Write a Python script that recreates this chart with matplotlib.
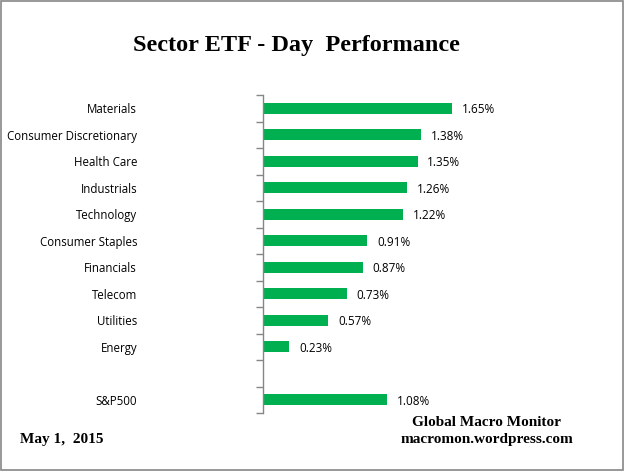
import numpy as np
import matplotlib.pyplot as plt
from matplotlib.patches import Rectangle

# Sector ETF daily returns (%)
sectors = ['Materials', 'Consumer Discretionary', 'Health Care', 'Industrials',
           'Technology', 'Consumer Staples', 'Financials', 'Telecom',
           'Utilities', 'Energy', '', 'S&P500']
returns = [1.65, 1.38, 1.35, 1.26, 1.22, 0.91, 0.87, 0.73, 0.57, 0.23, np.nan, 1.08]

green = '#00B050'
axis_gray = '#868686'

fig = plt.figure(figsize=(6.25, 4.71), dpi=100)
ax = fig.add_axes([263 / 625, 58 / 471, 300 / 625, 318 / 471])

y = np.arange(len(sectors))
vals = np.array(returns)
ax.barh(y, np.nan_to_num(vals), height=0.42, color=green)

for yi, v in zip(y, vals):
    if not np.isnan(v):
        ax.text(v + 0.085, yi + 0.06, f'{v:.2f}%', va='center', ha='left',
                fontsize=8.5, family='Open Sans')

ax.set_xlim(0, 300 / 114.5)
ax.set_ylim(len(sectors) - 0.5, -0.5)

# labels sit ~126 px left of the axis line (pad is in points)
ax.set_yticks(y)
ax.set_yticklabels(sectors, fontsize=8.3, family='Open Sans')
ax.tick_params(axis='y', which='major', length=0, pad=126 * 72 / 100)
ax.set_yticks(np.arange(-0.5, len(sectors)), minor=True)
ax.tick_params(axis='y', which='minor', length=5, color=axis_gray, width=1)
ax.set_xticks([])

for side in ['top', 'right', 'bottom']:
    ax.spines[side].set_visible(False)
ax.spines['left'].set_color(axis_gray)
ax.spines['left'].set_linewidth(1)

fig.text(296 / 625, 1 - 45 / 471, 'Sector ETF - Day  Performance', ha='center',
         va='center', fontsize=17.5, fontweight='bold', family='Liberation Serif')
fig.text(20 / 625, 1 - 440 / 471, 'May 1,  2015', ha='left', va='center',
         fontsize=11, fontweight='bold', family='Liberation Serif')
fig.text(487 / 625, 1 - 423 / 471, 'Global Macro Monitor', ha='center', va='center',
         fontsize=11, fontweight='bold', family='Liberation Serif')
fig.text(487 / 625, 1 - 440 / 471, 'macromon.wordpress.com', ha='center', va='center',
         fontsize=11, fontweight='bold', family='Liberation Serif')

fig.patches.append(Rectangle((0.0015, 0.002), 0.996, 0.995, transform=fig.transFigure,
                             fill=False, edgecolor=axis_gray, linewidth=1.2))

fig.savefig('out.png', dpi=100)
